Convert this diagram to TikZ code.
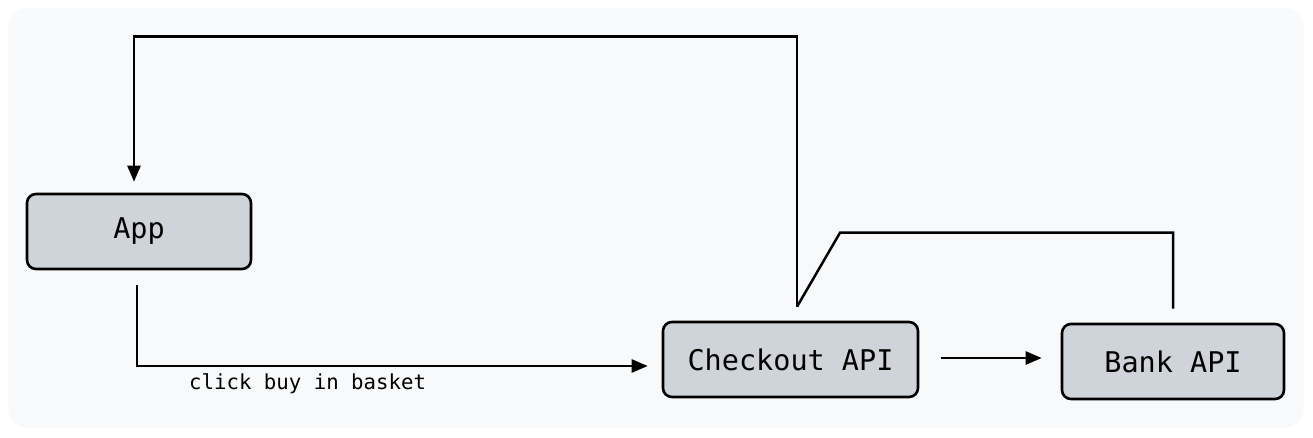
\documentclass[tikz,border=0pt]{standalone}
\usepackage{fontspec}
\setmonofont{DejaVu Sans Mono}
\usetikzlibrary{arrows.meta}

\definecolor{canvas}{HTML}{F8F9FA}
\definecolor{boxgray}{HTML}{CED4DA}

\tikzset{
  service/.style={rectangle, rounded corners=9pt, draw, line width=2.6pt,
    fill=boxgray, inner sep=0pt, font=\ttfamily\fontsize{28.5}{32}\selectfont},
  wire/.style={line width=2.5pt},
  flow/.style={wire, -{Triangle[length=16pt,width=13pt]}}
}

\begin{document}
\begin{tikzpicture}[x=1pt,y=-1pt]
  \useasboundingbox (0,0) rectangle (1313,437);
  \fill[canvas, rounded corners=20pt] (8,8) rectangle (1304,428);

  \node[service, minimum width=224pt, minimum height=75pt] (app) at (139,231.5) {App};
  \node[service, minimum width=255pt, minimum height=75pt] (checkout) at (790.5,359.5) {Checkout API};
  \node[service, minimum width=222pt, minimum height=75pt] (bank) at (1173,361.5) {Bank API};

  \coordinate (appin) at ([xshift=-5pt,yshift=11pt]app.north);
  \coordinate (appout) at ([xshift=-2pt,yshift=-15pt]app.south);
  \coordinate (coin) at ([xshift=-14pt,yshift=-6.5pt]checkout.west);
  \coordinate (cotop) at ([xshift=6.5pt,yshift=14pt]checkout.north);
  \coordinate (coright) at ([xshift=22pt,yshift=1.5pt]checkout.east);
  \coordinate (bankin) at ([xshift=-19pt,yshift=3.5pt]bank.west);
  \coordinate (banktop) at ([yshift=14pt]bank.north);

  \draw[flow] (cotop) -- ++(0,-270) -| (appin);
  \draw[flow] (appout) |- (coin);
  \draw[flow] (coright) -- (bankin);
  \draw[wire] (banktop) -- ++(0,-76) -- ++(-333,0) -- (cotop);

  \node[anchor=base west, inner sep=0pt, font=\ttfamily\fontsize{20.7}{24}\selectfont]
    (clicklbl) at (189,389) {click buy in basket};
\end{tikzpicture}
\end{document}
